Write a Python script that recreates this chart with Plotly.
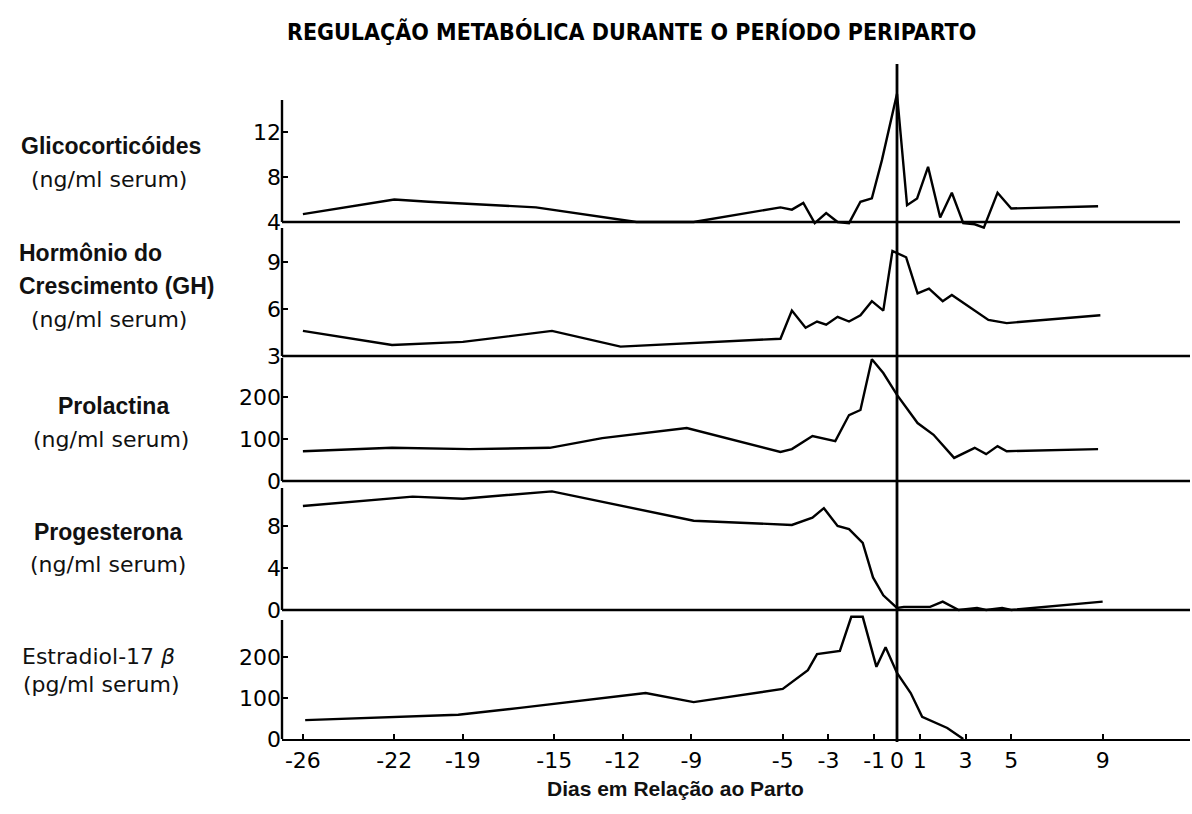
import plotly.graph_objects as go

W, H = 1192, 814

title_text = "REGULAÇÃO METABÓLICA DURANTE O PERÍODO PERIPARTO"
x_title = "Dias em Relação ao Parto"

day_ticks = [-26, -22, -19, -15, -12, -9, -5, -3, -1, 0, 1, 3, 5, 9]
day_tick_text = ["-26", "-22", "-19", "-15", "-12", "-9", "-5", "-3", "-1", "0", "1", "3", "5", "9"]

# Glicocorticóides (ng/ml serum)
gluco_days = [-26, -22, -20.5, -15.8, -11.4, -8.9, -5.1, -4.6, -4.1, -3.6, -3.1, -2.6, -2.1,
              -1.6, -1.1, -0.66, 0, 0.44, 0.88, 1.36, 1.89, 2.4, 2.9, 3.4, 3.8, 4.4, 5.0, 8.8]
gluco_vals = [4.7, 6.0, 5.8, 5.3, 4.0, 4.0, 5.3, 5.1, 5.7, 3.9, 4.8, 4.0, 3.9,
              5.8, 6.1, 9.5, 15.4, 5.5, 6.1, 8.9, 4.4, 6.6, 3.9, 3.8, 3.5, 6.6, 5.2, 5.4]

# Hormônio do Crescimento (GH) (ng/ml serum)
gh_days = [-26, -22.1, -19, -15.1, -12.1, -5.1, -4.6, -4.0, -3.5, -3.1, -2.6, -2.1, -1.6,
           -1.1, -0.6, -0.2, 0.4, 0.9, 1.4, 2.0, 2.4, 4.0, 4.8, 8.9]
gh_vals = [4.6, 3.7, 3.9, 4.6, 3.6, 4.1, 5.9, 4.8, 5.2, 5.0, 5.5, 5.2, 5.6,
           6.5, 5.9, 9.7, 9.3, 7.0, 7.3, 6.5, 6.9, 5.3, 5.1, 5.6]

# Prolactina (ng/ml serum)
prl_days = [-26, -22.1, -18.7, -15.2, -12.9, -9.2, -5.1, -4.6, -3.7, -2.7, -2.1, -1.6, -1.1,
            -0.6, 0, 0.9, 1.6, 2.5, 3.4, 3.9, 4.4, 4.8, 8.8]
prl_vals = [71, 79, 76, 79, 102, 126, 69, 76, 107, 95, 157, 169, 290,
            257, 205, 138, 110, 55, 79, 64, 83, 71, 76]

# Progesterona (ng/ml serum)
prog_days = [-26, -21.2, -19, -15.1, -8.9, -4.6, -3.7, -3.2, -2.6, -2.1, -1.5, -1.05, -0.6,
             0, 0.3, 1.45, 2.0, 2.7, 3.5, 3.9, 4.6, 5.0, 9.0]
prog_vals = [9.9, 10.8, 10.6, 11.3, 8.5, 8.1, 8.8, 9.7, 8.0, 7.7, 6.4, 3.1, 1.4,
             0.2, 0.3, 0.3, 0.8, 0.0, 0.2, 0.0, 0.2, 0.0, 0.8]

# Estradiol-17β (pg/ml serum)
e2_days = [-25.9, -21.4, -19.2, -16.5, -11.0, -8.9, -5.0, -3.9, -3.5, -2.5, -2.0, -1.5,
           -0.9, -0.5, 0, 0.6, 1.1, 2.2, 2.9]
e2_vals = [46, 54, 59, 76, 112, 90, 122, 168, 207, 215, 298, 298,
           176, 224, 161, 112, 54, 27, 0]

panels = [
    dict(days=gluco_days, vals=gluco_vals, ticks=[4, 8, 12]),
    dict(days=gh_days, vals=gh_vals, ticks=[3, 6, 9]),
    dict(days=prl_days, vals=prl_vals, ticks=[0, 100, 200]),
    dict(days=prog_days, vals=prog_vals, ticks=[0, 4, 8]),
    dict(days=e2_days, vals=e2_vals, ticks=[0, 100, 200]),
]

# layout geometry (pixels from top): baseline, px per unit, domain top, axis-line top
geom = [
    dict(base=222, ppu=11.25, top=84, axtop=100),
    dict(base=356, ppu=15.67, top=228, axtop=228),
    dict(base=481, ppu=0.42, top=355, axtop=358),
    dict(base=610, ppu=10.5, top=486, axtop=488),
    dict(base=739, ppu=0.41, top=613, axtop=620),
]
PAD = 7  # extra pixels below each baseline so lines on/below it are not clipped

def px(x):
    return x / W

def py(y):
    return 1 - y / H

X0, X1 = 282, 1190
DAY0_PX, PX_PER_DAY = 897, 22.85
x_range = [(X0 - DAY0_PX) / PX_PER_DAY, (X1 - DAY0_PX) / PX_PER_DAY]

num_font = dict(family="DejaVu Sans, sans-serif", size=22, color="black")
LW = 2.4

fig = go.Figure()
shapes = []
layout_axes = {}

for i, (p, g) in enumerate(zip(panels, geom)):
    n = i + 1
    yname = "y" if n == 1 else f"y{n}"
    ykey = "yaxis" if n == 1 else f"yaxis{n}"
    vmin = p["ticks"][0]
    vtop = vmin + (g["base"] - g["top"]) / g["ppu"]
    pad = PAD if n < 5 else 0
    vbot = vmin - pad / g["ppu"]
    fig.add_trace(go.Scatter(
        x=p["days"], y=p["vals"], mode="lines", xaxis="x", yaxis=yname,
        line=dict(color="black", width=LW), showlegend=False, hoverinfo="skip",
    ))
    layout_axes[ykey] = dict(
        domain=[py(g["base"] + pad), py(g["top"])], range=[vbot, vtop], anchor="x",
        tickvals=p["ticks"], ticktext=[str(t) for t in p["ticks"]],
        ticks="inside", ticklen=6, tickwidth=2, tickcolor="black",
        showline=False, showgrid=False, zeroline=False, tickfont=num_font,
        automargin=False,
    )
    # y axis line
    shapes.append(dict(type="line", xref="paper", yref=yname,
                       x0=px(X0), x1=px(X0), y0=vmin,
                       y1=vmin + (g["base"] - g["axtop"]) / g["ppu"],
                       line=dict(color="black", width=LW)))
    # baseline
    if n < 5:
        shapes.append(dict(type="line", xref="paper", yref=yname,
                           x0=px(X0), x1=px(1180 if n == 1 else X1), y0=vmin, y1=vmin,
                           line=dict(color="black", width=LW)))

# vertical line at parturition (day 0)
shapes.append(dict(type="line", xref="x", yref="paper", x0=0, x1=0,
                   y0=py(742), y1=py(64), line=dict(color="black", width=2.8)))

fig.update_layout(
    width=W, height=H, margin=dict(l=0, r=0, t=0, b=0),
    paper_bgcolor="white", plot_bgcolor="rgba(0,0,0,0)",
    template="none",
    xaxis=dict(domain=[px(X0), px(X1)], range=x_range, anchor="y5",
               tickvals=day_ticks, ticktext=day_tick_text,
               ticks="inside", ticklen=5, tickwidth=2, tickcolor="black",
               showline=True, linecolor="black", linewidth=LW,
               showgrid=False, zeroline=False, tickfont=num_font, automargin=False),
    shapes=shapes,
    **layout_axes,
)

label_font = dict(family="Liberation Sans, Arial, sans-serif", size=23, color="#111111")
unit_font = dict(family="DejaVu Sans, sans-serif", size=22, color="#111111")

annotations = [
    dict(text="<b>" + title_text + "</b>", x=px(631), y=py(32),
         font=dict(family="Liberation Sans Narrow, DejaVu Sans Condensed, Arial Narrow, sans-serif",
                   size=23, color="black")),
    dict(text="<b>" + x_title + "</b>", x=px(675), y=py(788),
         font=dict(family="Liberation Sans, Arial, sans-serif", size=21, color="#111111")),
    dict(text="<b>Glicocorticóides</b>", x=px(111), y=py(146), font=label_font),
    dict(text="(ng/ml serum)", x=px(109), y=py(180), font=unit_font),
    dict(text="<b>Hormônio do</b>", x=px(17), y=py(253), xanchor="left", font=label_font),
    dict(text="<b>Crescimento (GH)</b>", x=px(17), y=py(286), xanchor="left", font=label_font),
    dict(text="(ng/ml serum)", x=px(109), y=py(320), font=unit_font),
    dict(text="<b>Prolactina</b>", x=px(113), y=py(406), font=label_font),
    dict(text="(ng/ml serum)", x=px(111), y=py(439), font=unit_font),
    dict(text="<b>Progesterona</b>", x=px(108), y=py(532), font=label_font),
    dict(text="(ng/ml serum)", x=px(108), y=py(564), font=unit_font),
    dict(text="Estradiol-17 <i>β</i>", x=px(98), y=py(656), font=unit_font),
    dict(text="(pg/ml serum)", x=px(101), y=py(684), font=unit_font),
]
for a in annotations:
    a.setdefault("xanchor", "center")
    a["yanchor"] = "middle"
    a["xref"] = "paper"
    a["yref"] = "paper"
    a["showarrow"] = False
fig.update_layout(annotations=annotations)

fig.write_html("out.html")
